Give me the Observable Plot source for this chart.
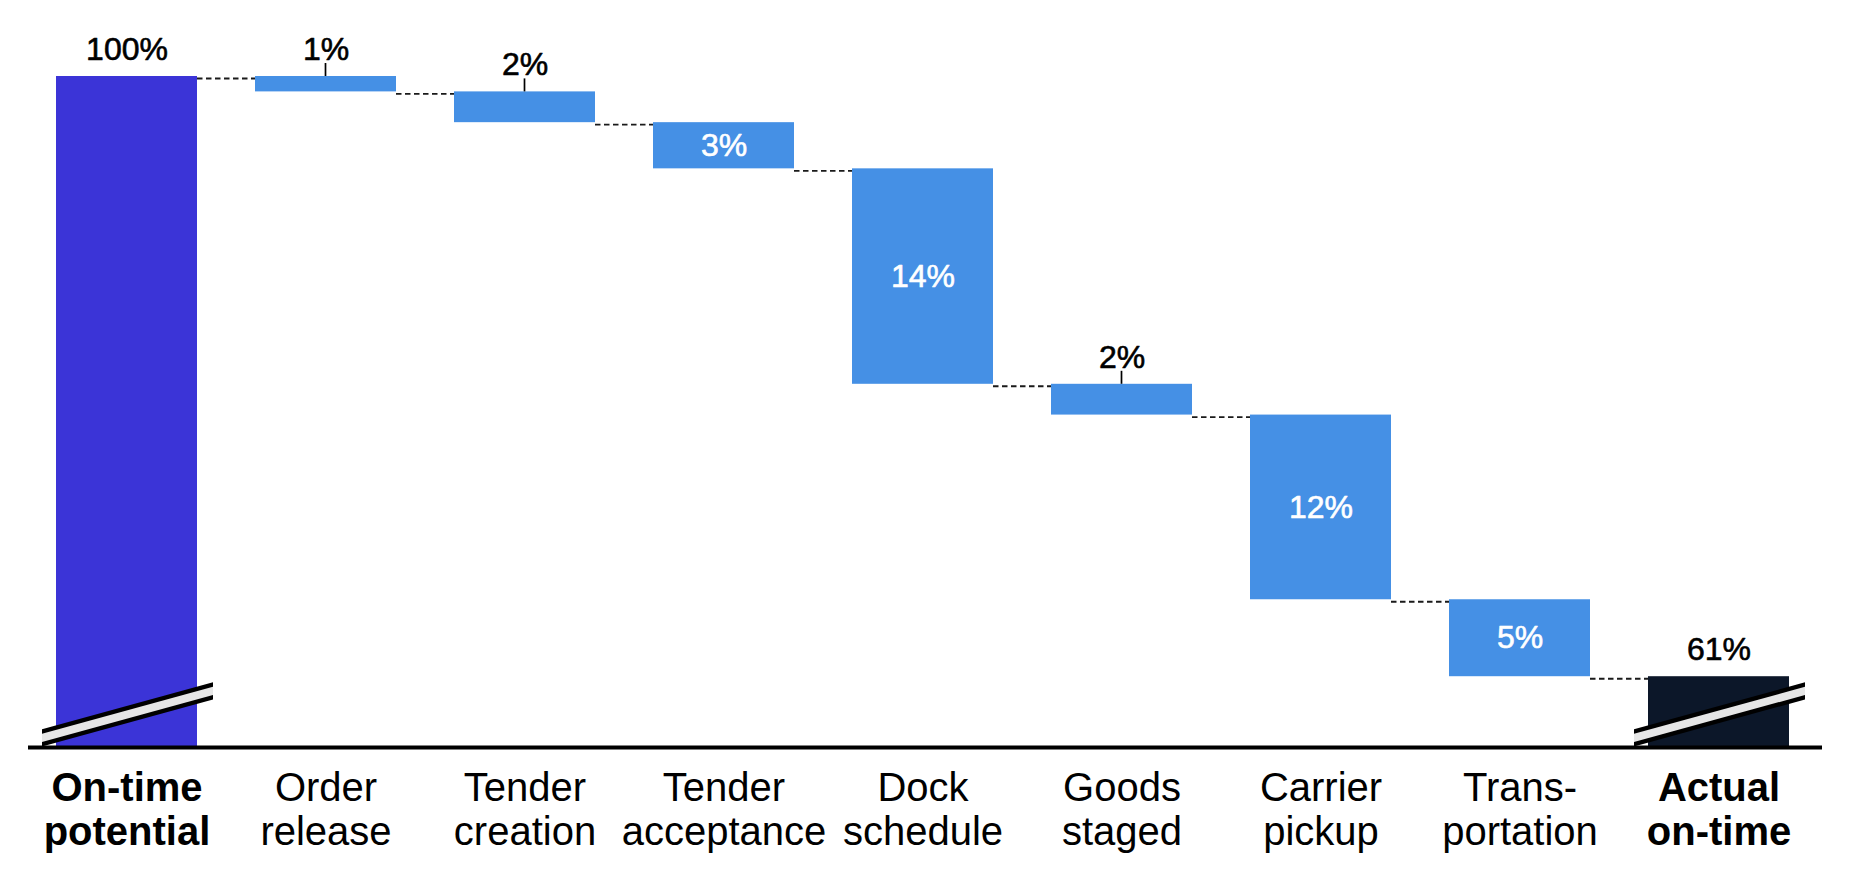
<!DOCTYPE html>
<html>
<head>
<meta charset="utf-8">
<script src="https://cdn.jsdelivr.net/npm/d3@7"></script>
<script src="https://cdn.jsdelivr.net/npm/@observablehq/plot@0.6"></script>
<style>
  html, body { margin: 0; padding: 0; background: #fff; overflow: hidden; }
  #chart svg { display: block; }
</style>
</head>
<body>
<div id="chart"></div>
<script>
// ---- Data ----
const categories = ["On-time potential", "Order release", "Tender creation", "Tender acceptance", "Dock schedule", "Goods staged", "Carrier pickup", "Transportation", "Actual on-time"];
const tickLabels = ["On-time\npotential", "Order\nrelease", "Tender\ncreation", "Tender\nacceptance", "Dock\nschedule", "Goods\nstaged", "Carrier\npickup", "Trans-\nportation", "Actual\non-time"];
const kinds = ["total", "step", "step", "step", "step", "step", "step", "step", "total"];
const values = [100, 1, 2, 3, 14, 2, 12, 5, 61];
const valueLabels = ["100%", "1%", "2%", "3%", "14%", "2%", "12%", "5%", "61%"];
const labelPlacement = ["above", "tick", "tick", "inside", "inside", "tick", "inside", "inside", "above"];
const boldCategories = ["On-time potential", "Actual on-time"];
const axisFloor = 56.4;   // value at the broken baseline
const breakValue = 58.5;  // where the axis-break marks cross the total bars

// ---- Build rows ----
const colorByKind = {first: "#3b34d7", step: "#4590e5", last: "#0c1729"};
let running = 0;
const rows = categories.map((cat, i) => {
  let y1, y2, colorKey;
  if (kinds[i] === "total") {
    y1 = axisFloor; y2 = values[i]; running = values[i];
    colorKey = i === 0 ? "first" : "last";
  } else {
    y2 = running; y1 = running - values[i]; running = y1;
    colorKey = "step";
  }
  return {cat, i, y1, y2, top: Math.max(y1, y2), mid: (y1 + y2) / 2, label: valueLabels[i], place: labelPlacement[i], fill: colorByKind[colorKey], tick: tickLabels[i], bold: boldCategories.includes(cat), kind: kinds[i]};
});
const connectors = rows.slice(0, -1).map((r, i) => ({from: r.cat, to: rows[i + 1].cat, level: r.kind === "total" ? r.y2 : r.y1}));

// ---- Custom decorations drawn through the plot's scales ----
function decorations(index, scales) {
  const x = scales.x, y = scales.y;
  const bw = typeof x.bandwidth === "function" ? x.bandwidth() : x.bandwidth;
  const g = d3.create("svg:g");
  // dashed connectors between bars
  for (const c of connectors) {
    const yy = y(c.level) + 2.5;
    g.append("line")
      .attr("x1", x(c.from) + bw).attr("x2", x(c.to))
      .attr("y1", yy).attr("y2", yy)
      .attr("stroke", "#1a1a1a").attr("stroke-width", 1.9)
      .attr("stroke-dasharray", "5.5,3.5");
  }
  // small ticks linking labels above thin bars
  for (const r of rows.filter(d => d.place === "tick")) {
    const cx = x(r.cat) + bw / 2, yy = y(r.top);
    g.append("line").attr("x1", cx).attr("x2", cx).attr("y1", yy - 13).attr("y2", yy)
      .attr("stroke", "#000").attr("stroke-width", 1.7);
  }
  // axis-break marks on total bars
  const slope = 0.275;
  for (const r of rows.filter(d => d.kind === "total")) {
    const x0 = x(r.cat), cx = x0 + bw / 2, cy = y(breakValue);
    const L = x0 - 14, R = x0 + bw + 16;
    const yl = cy + slope * (cx - L), yr = cy - slope * (R - cx);
    const poly = (h) => `M${L},${yl - h}L${R},${yr - h}L${R},${yr + h}L${L},${yl + h}Z`;
    g.append("path").attr("d", poly(8.6)).attr("fill", "#000");
    g.append("path").attr("d", poly(4.1)).attr("fill", "#e6e6e6");
  }
  return g.node();
}

const valueFont = {fontSize: 32, fontFamily: "Liberation Sans, Arial, sans-serif"};

const chart = Plot.plot({
  width: 1854,
  height: 880,
  marginTop: 76,
  marginBottom: 133,
  marginLeft: 28,
  marginRight: 32,
  style: {background: "#fff", fontFamily: "Liberation Sans, Arial, sans-serif", color: "#000"},
  x: {type: "band", domain: categories, paddingInner: 0.289, paddingOuter: 0.135, align: 0.46, axis: null},
  y: {domain: [axisFloor, 100], axis: null},
  color: {type: "identity"},
  marks: [
    Plot.barY(rows, {x: "cat", y1: "y1", y2: "y2", fill: "fill"}),
    decorations,
    Plot.ruleY([axisFloor], {stroke: "#000", strokeWidth: 4}),
    // labels above bars
    Plot.text(rows.filter(d => d.place !== "inside"), {x: "cat", y: "top", text: "label", dy: -27, lineAnchor: "middle", fill: "#000", stroke: "#000", strokeWidth: 0.6, ...valueFont}),
    // labels inside bars
    Plot.text(rows.filter(d => d.place === "inside"), {x: "cat", y: "mid", text: "label", lineAnchor: "middle", fill: "#fff", stroke: "#fff", strokeWidth: 0.6, ...valueFont}),
    // category labels
    Plot.text(rows.filter(d => !d.bold), {x: "cat", frameAnchor: "bottom", text: "tick", dy: 22, lineAnchor: "top", lineHeight: 1.1, fontSize: 40, fill: "#000"}),
    Plot.text(rows.filter(d => d.bold), {x: "cat", frameAnchor: "bottom", text: "tick", dy: 22, lineAnchor: "top", lineHeight: 1.1, fontSize: 40, fontWeight: "bold", fill: "#000"})
  ]
});
document.getElementById("chart").appendChild(chart);
</script>
</body>
</html>
